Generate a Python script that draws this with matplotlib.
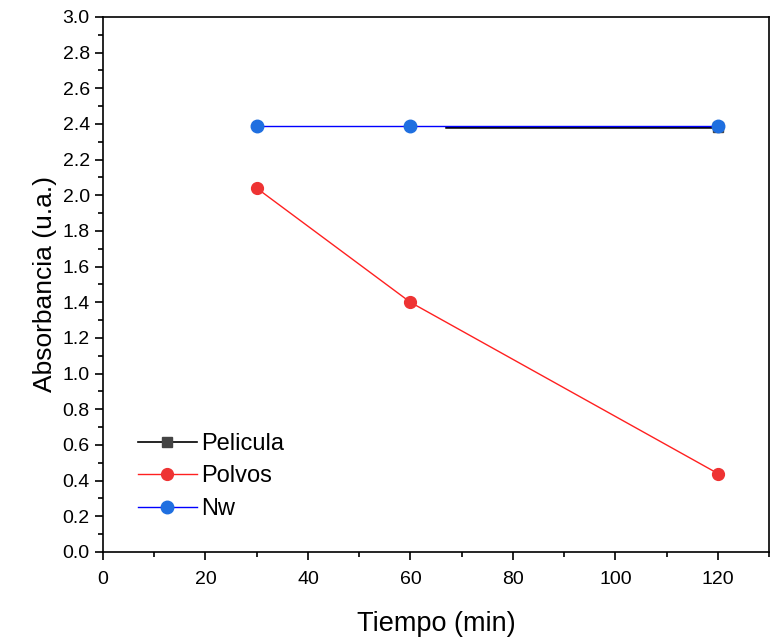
import matplotlib
matplotlib.use("Agg")
import matplotlib.pyplot as plt
from matplotlib.ticker import MultipleLocator

plt.rcParams["font.family"] = ["Liberation Sans", "DejaVu Sans"]

# data
tiempo = [30, 60, 120]
pelicula_x = [67, 120]
pelicula_y = [2.385, 2.385]
polvos = [2.04, 1.40, 0.44]
nw = [2.39, 2.39, 2.39]

fig = plt.figure(figsize=(7.71, 6.4), dpi=100)
ax = fig.add_axes([0.1336, 0.1375, 0.864, 0.836])

# Pelicula: line only visible from ~67, marker hidden under Nw at 120
ax.plot(pelicula_x, pelicula_y, color="black", lw=1.8, marker="s", markersize=7,
        markerfacecolor="#444444", markeredgecolor="#444444", markevery=[1],
        label="Pelicula")
ax.plot(tiempo, polvos, color="#ff2020", lw=1.0, marker="o", markersize=8.5,
        markerfacecolor="#ee3333", markeredgecolor="#ee3333", label="Polvos")
ax.plot(tiempo, nw, color="#0000ff", lw=1.0, marker="o", markersize=9,
        markerfacecolor="#1f6fe0", markeredgecolor="#1f6fe0", label="Nw")

ax.set_xlim(0, 130)
ax.set_ylim(0, 3.0)
ax.xaxis.set_major_locator(MultipleLocator(20))
ax.xaxis.set_minor_locator(MultipleLocator(10))
ax.yaxis.set_major_locator(MultipleLocator(0.2))
ax.yaxis.set_minor_locator(MultipleLocator(0.1))
ax.yaxis.set_major_formatter(plt.FormatStrFormatter("%.1f"))

ax.tick_params(which="major", direction="out", length=6, width=1.2, labelsize=14,
               top=False, right=False)
ax.tick_params(axis="x", which="major", pad=8)
ax.tick_params(which="minor", direction="out", length=3.5, width=1.2,
               top=False, right=False)
for s in ax.spines.values():
    s.set_linewidth(1.2)

ax.set_xlabel("Tiempo (min)", fontsize=19.5, labelpad=16)
ax.set_ylabel("Absorbancia (u.a.)", fontsize=19, labelpad=4)

leg = ax.legend(loc="lower left", bbox_to_anchor=(0.02, 0.02), frameon=False,
                fontsize=17, handlelength=2.5, labelspacing=0.45, handletextpad=0.2)
leg.get_lines()[0].set_linewidth(1.2)

fig.savefig("out.png", dpi=100)
